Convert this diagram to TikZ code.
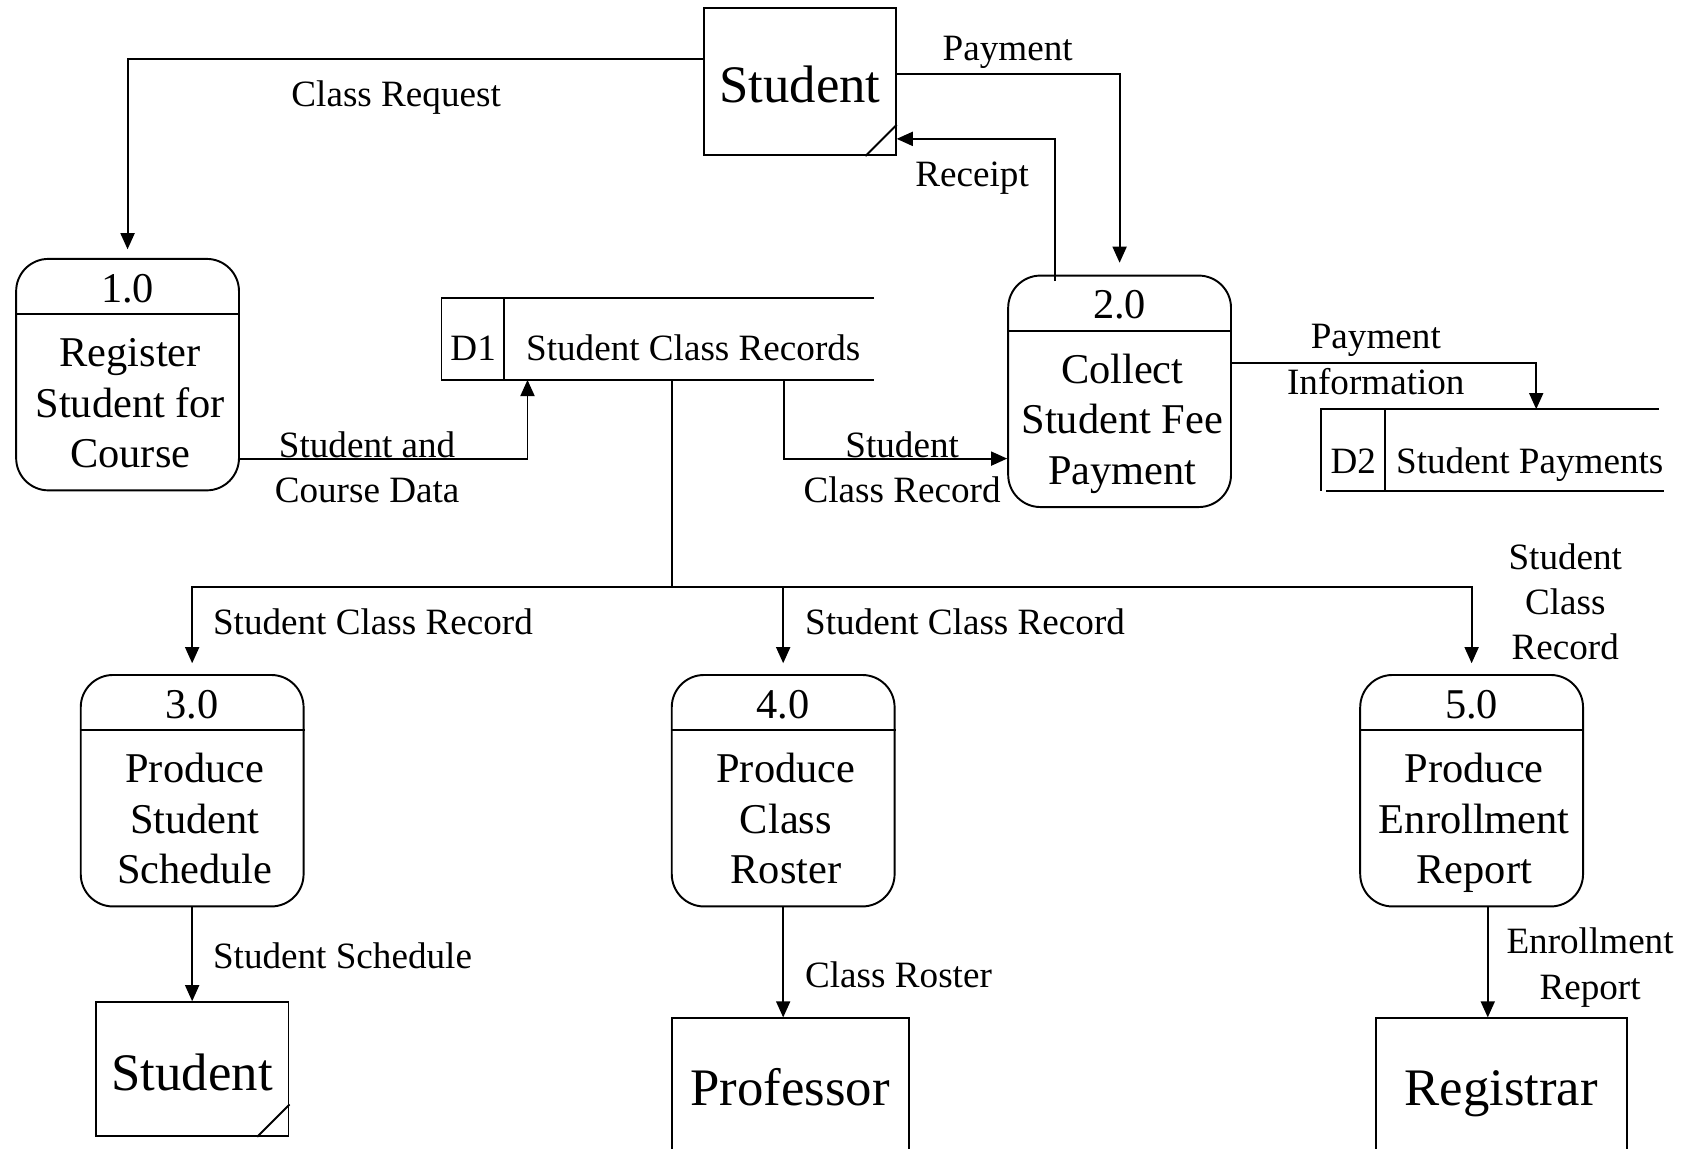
\documentclass[tikz,border=0pt]{standalone}
\usepackage{fontspec}
\setmainfont{Liberation Serif}
\usetikzlibrary{arrows.meta}

% process bubble: name, x, y, number, description
\newcommand\dfdproc[5]{%
  \node[proc] (#1) at (#2,#3) {};
  \draw ([yshift=-52pt]#1.north west) -- ([yshift=-52pt]#1.north east);
  \node[proctext, anchor=base] (#1-num) at ([yshift=-41pt]#1.north) {#4};
  \node[proctext] (#1-txt) at ([xshift=2.5pt,yshift=-138.6pt]#1.north) {#5};
}

\begin{document}
\begin{tikzpicture}[x=1pt,y=-1pt,
  line width=1.8pt,
  flow/.style={-{Triangle[length=15pt,width=13pt]}},
  lbl/.style={font=\fontsize{34.5}{42}\selectfont, inner sep=0pt, align=center},
  proc/.style={draw, rounded corners=30pt, minimum width=207pt, minimum height=215pt, inner sep=0pt},
  proctext/.style={font=\fontsize{39.4}{47}\selectfont, align=center, inner sep=0pt},
  ent/.style={draw, inner sep=0pt},
  enttext/.style={font=\fontsize{49}{58}\selectfont, inner sep=0pt},
  store/.style={inner sep=0pt, minimum height=74pt},
]
\useasboundingbox (0,0) rectangle (1568,1067);
\fill[white] (0,0) rectangle (1568,1067);
\clip (0,0) rectangle (1568,1067);

% external entities
\node[ent, minimum width=178pt, minimum height=137pt] (stu) at (743,75.5) {};
\draw ([xshift=-29pt]stu.south east) -- ([yshift=29pt]stu.south east);
\node[enttext, anchor=base] (stu-txt) at ([yshift=-19.5pt]stu.center) {Student};

\node[ent, minimum width=179pt, minimum height=124pt] (stu2) at (178.5,993) {};
\draw ([xshift=-30pt]stu2.south east) -- ([yshift=30pt]stu2.south east);
\node[enttext, anchor=base] (stu2-txt) at ([yshift=-20pt]stu2.center) {Student};

\node[ent, minimum width=220pt, minimum height=160pt] (prof) at (734,1026) {};
\node[enttext, anchor=base] (prof-txt) at ([yshift=-82pt]prof.north) {Professor};

\node[ent, minimum width=233pt, minimum height=160pt] (reg) at (1394.5,1026) {};
\node[enttext, anchor=base] (reg-txt) at ([yshift=-82pt]reg.north) {Registrar};

% processes
\dfdproc{p1}{118.5}{348}{1.0}{\strut Register\\\strut Student for\\\strut Course}
\dfdproc{p2}{1040}{363.5}{2.0}{\strut Collect\\\strut Student Fee\\\strut Payment}
\dfdproc{p3}{178.5}{734.5}{3.0}{\strut Produce\\\strut Student\\\strut Schedule}
\dfdproc{p4}{727.5}{734.5}{4.0}{\strut Produce\\\strut Class\\\strut Roster}
\dfdproc{p5}{1367}{734.5}{5.0}{\strut Produce\\\strut Enrollment\\\strut Report}

% data stores
\node[store, minimum width=400pt] (d1) at (611,315) {};
\draw (d1.north east) -- (d1.north west) -- (d1.south west) -- (d1.south east);
\draw ([xshift=58pt]d1.north west) -- ([xshift=58pt]d1.south west);
\node[lbl, anchor=base] (d1-id) at (439.5,335) {D1};
\node[lbl, anchor=base] (d1-txt) at (644,335) {Student Class Records};

\node[store, minimum width=317pt] (d2) at (1386.5,418) {};
\draw ([xshift=-5pt]d2.north east) -- (d2.north west) -- (d2.south west);
\draw ([xshift=5pt]d2.south west) -- (d2.south east);
\draw ([xshift=59pt]d2.north west) -- ([xshift=59pt]d2.south west);
\node[lbl, anchor=base] (d2-id) at (1257,440) {D2};
\node[lbl, anchor=base] (d2-txt) at (1421,440) {Student Payments};

% data flows
\draw[flow] ([yshift=20.5pt]stu.west) -| ([yshift=8pt]p1.north);
\draw[flow] ([yshift=6.5pt]stu.east) -| ([yshift=11pt]p2.north);
\draw[flow] ([xshift=-60pt,yshift=-6pt]p2.north) |- ([yshift=-53.5pt]stu.east);
\draw[flow] ([yshift=-78pt]p1.east) -| ([xshift=-121pt]d1.south);
\draw[flow] ([xshift=117pt]d1.south) |- ([yshift=-62.5pt]p2.west);
\draw[flow] ([yshift=26.5pt]p2.east) -| ([xshift=40.5pt]d2.north);

\coordinate (jn) at (624,545);
\draw ([xshift=13pt]d1.south) -- (jn);
\draw[flow] (jn) -| ([yshift=10pt]p3.north);
\draw[flow] (jn) -| ([yshift=10pt]p4.north);
\draw[flow] (jn) -| ([yshift=10pt]p5.north);

\draw[flow] (p3.south) -- (stu2.north);
\draw[flow] (p4.south) -- (p4.south |- prof.north);
\draw[flow] ([xshift=15pt]p5.south) -- ([xshift=15pt]p5.south |- reg.north);

% flow labels
\node[lbl, anchor=base] (l-req) at (368,99) {Class Request};
\node[lbl, anchor=base] (l-pay) at (936,56) {Payment};
\node[lbl, anchor=base] (l-rec) at (903,173) {Receipt};
\node[lbl] (l-scd) at (341,437.6) {\strut Student and\\\strut Course Data};
\node[lbl] (l-scr) at (838,437.6) {\strut Student\\\strut Class Record};
\node[lbl] (l-pin) at (1278,336.6) {\strut Payment\\\strut Information};
\node[lbl, anchor=base west] (l-r3) at (197,589) {Student Class Record};
\node[lbl, anchor=base west] (l-r4) at (747,589) {Student Class Record};
\node[lbl] (l-r5) at (1454,562.6) {\strut Student\\\strut Class\\\strut Record};
\node[lbl, anchor=base west] (l-sch) at (197,900) {Student Schedule};
\node[lbl, anchor=base west] (l-ros) at (747,917) {Class Roster};
\node[lbl] (l-enr) at (1477,898.6) {\strut Enrollment\\\strut Report};
\end{tikzpicture}
\end{document}
